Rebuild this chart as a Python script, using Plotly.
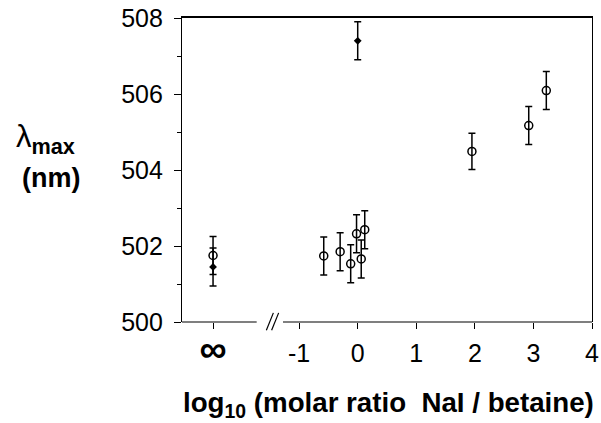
import plotly.graph_objects as go

# ---- data ----
INF_X = -2.47  # axis position used for the "infinity" category
open_x = [INF_X, -0.58, -0.30, -0.12, -0.02, 0.06, 0.12, 1.95, 2.92, 3.22]
open_y = [501.75, 501.74, 501.85, 501.53, 502.32, 501.66, 502.43, 504.49, 505.17, 506.09]
open_err = [0.5, 0.5, 0.5, 0.5, 0.5, 0.5, 0.5, 0.48, 0.5, 0.5]

filled_x = [INF_X, 0.0]
filled_y = [501.45, 507.40]
filled_err = [0.5, 0.5]

x_tickvals = [INF_X, -1, 0, 1, 2, 3, 4]
x_ticktext = ["<span style='font-size:38px'><b>∞</b></span>", "-1", "0", "1", "2", "3", "4"]
y_tickvals = [500, 502, 504, 506, 508]

FONT = "Liberation Sans, Arial, sans-serif"

fig = go.Figure()

err_style = dict(type="data", thickness=1.5, width=3.5, color="black")

fig.add_trace(go.Scatter(
    x=open_x, y=open_y, mode="markers",
    error_y=dict(array=open_err, **err_style),
    marker=dict(symbol="circle-open", size=8, color="black", line=dict(width=1.5)),
    showlegend=False,
))
fig.add_trace(go.Scatter(
    x=filled_x, y=filled_y, mode="markers",
    error_y=dict(array=filled_err, **err_style),
    marker=dict(symbol="diamond", size=6, color="black"),
    showlegend=False,
))
# invisible trace on a top x-axis, used only to draw the top frame line
fig.add_trace(go.Scatter(x=[None], y=[None], xaxis="x2", yaxis="y",
                         showlegend=False, hoverinfo="skip"))

fig.update_layout(
    width=601, height=423,
    margin=dict(l=182, r=9, t=18, b=101),
    paper_bgcolor="white", plot_bgcolor="white",
    font=dict(family=FONT, color="black"),
    xaxis=dict(
        range=[-3, 4], showgrid=False, zeroline=False, showline=False,
        automargin=False,
        tickmode="array", tickvals=x_tickvals, ticktext=x_ticktext,
        ticks="outside", ticklen=6, tickwidth=1.2, tickcolor="black",
        tickfont=dict(size=25, family=FONT), ticklabelstandoff=3,
    ),
    xaxis2=dict(
        range=[-3, 4], overlaying="x", side="top", showgrid=False, zeroline=False,
        showline=True, linecolor="black", linewidth=1.5, automargin=False,
        showticklabels=False, ticks="",
    ),
    yaxis=dict(
        range=[500, 508], showgrid=False, zeroline=False,
        showline=True, linecolor="black", linewidth=1.2, mirror=True,
        automargin=False,
        tickmode="array", tickvals=y_tickvals,
        ticks="outside", ticklen=7, tickwidth=1.2, tickcolor="black",
        tickfont=dict(size=25, family=FONT), ticklabelstandoff=6,
        ticklabeloverflow="allow",
        minor=dict(dtick=1, ticks="outside", ticklen=4, tickwidth=1.2, tickcolor="black"),
    ),
)

line = dict(color="black", width=1.2)
# broken bottom axis
fig.add_shape(type="line", xref="x", yref="paper", x0=-3, x1=-1.725, y0=0, y1=0, line=line)
fig.add_shape(type="line", xref="x", yref="paper", x0=-1.276, x1=4, y0=0, y1=0, line=line)
# the "//" break marks
for dx in (0.0, 0.09):
    fig.add_shape(type="line", xref="x", yref="paper",
                  x0=-1.56 + dx, x1=-1.44 + dx, y0=-0.027, y1=0.03,
                  line=dict(color="black", width=1.2))

# leading minus of the "- ∞" label
fig.add_annotation(x=-3.17, y=0, xref="x", yref="paper", text="-",
                   showarrow=False, yanchor="middle", yshift=-28,
                   font=dict(size=25, family=FONT))

# axis titles
fig.add_annotation(x=(388 - 182) / 410, y=(322 - 404) / 304, xref="paper", yref="paper",
                   text="<b>log<sub>10</sub> (molar ratio  NaI / betaine)</b>",
                   showarrow=False, xanchor="center", yanchor="middle",
                   font=dict(size=27.7, family=FONT))
fig.add_annotation(x=(45 - 182) / 410, y=(322 - 139) / 304, xref="paper", yref="paper",
                   text="λ<b><sub>max</sub></b>",
                   showarrow=False, xanchor="center", yanchor="middle",
                   font=dict(size=31, family=FONT))
fig.add_annotation(x=(51 - 182) / 410, y=(322 - 178) / 304, xref="paper", yref="paper",
                   text="<b>(nm)</b>",
                   showarrow=False, xanchor="center", yanchor="middle",
                   font=dict(size=27, family=FONT))

# remove the page's default body margin so the 601x423 figure fills the window exactly
fig.write_html("out.html", config={"displayModeBar": False},
               post_script="document.body.style.margin='0';document.body.style.overflow='hidden';")
